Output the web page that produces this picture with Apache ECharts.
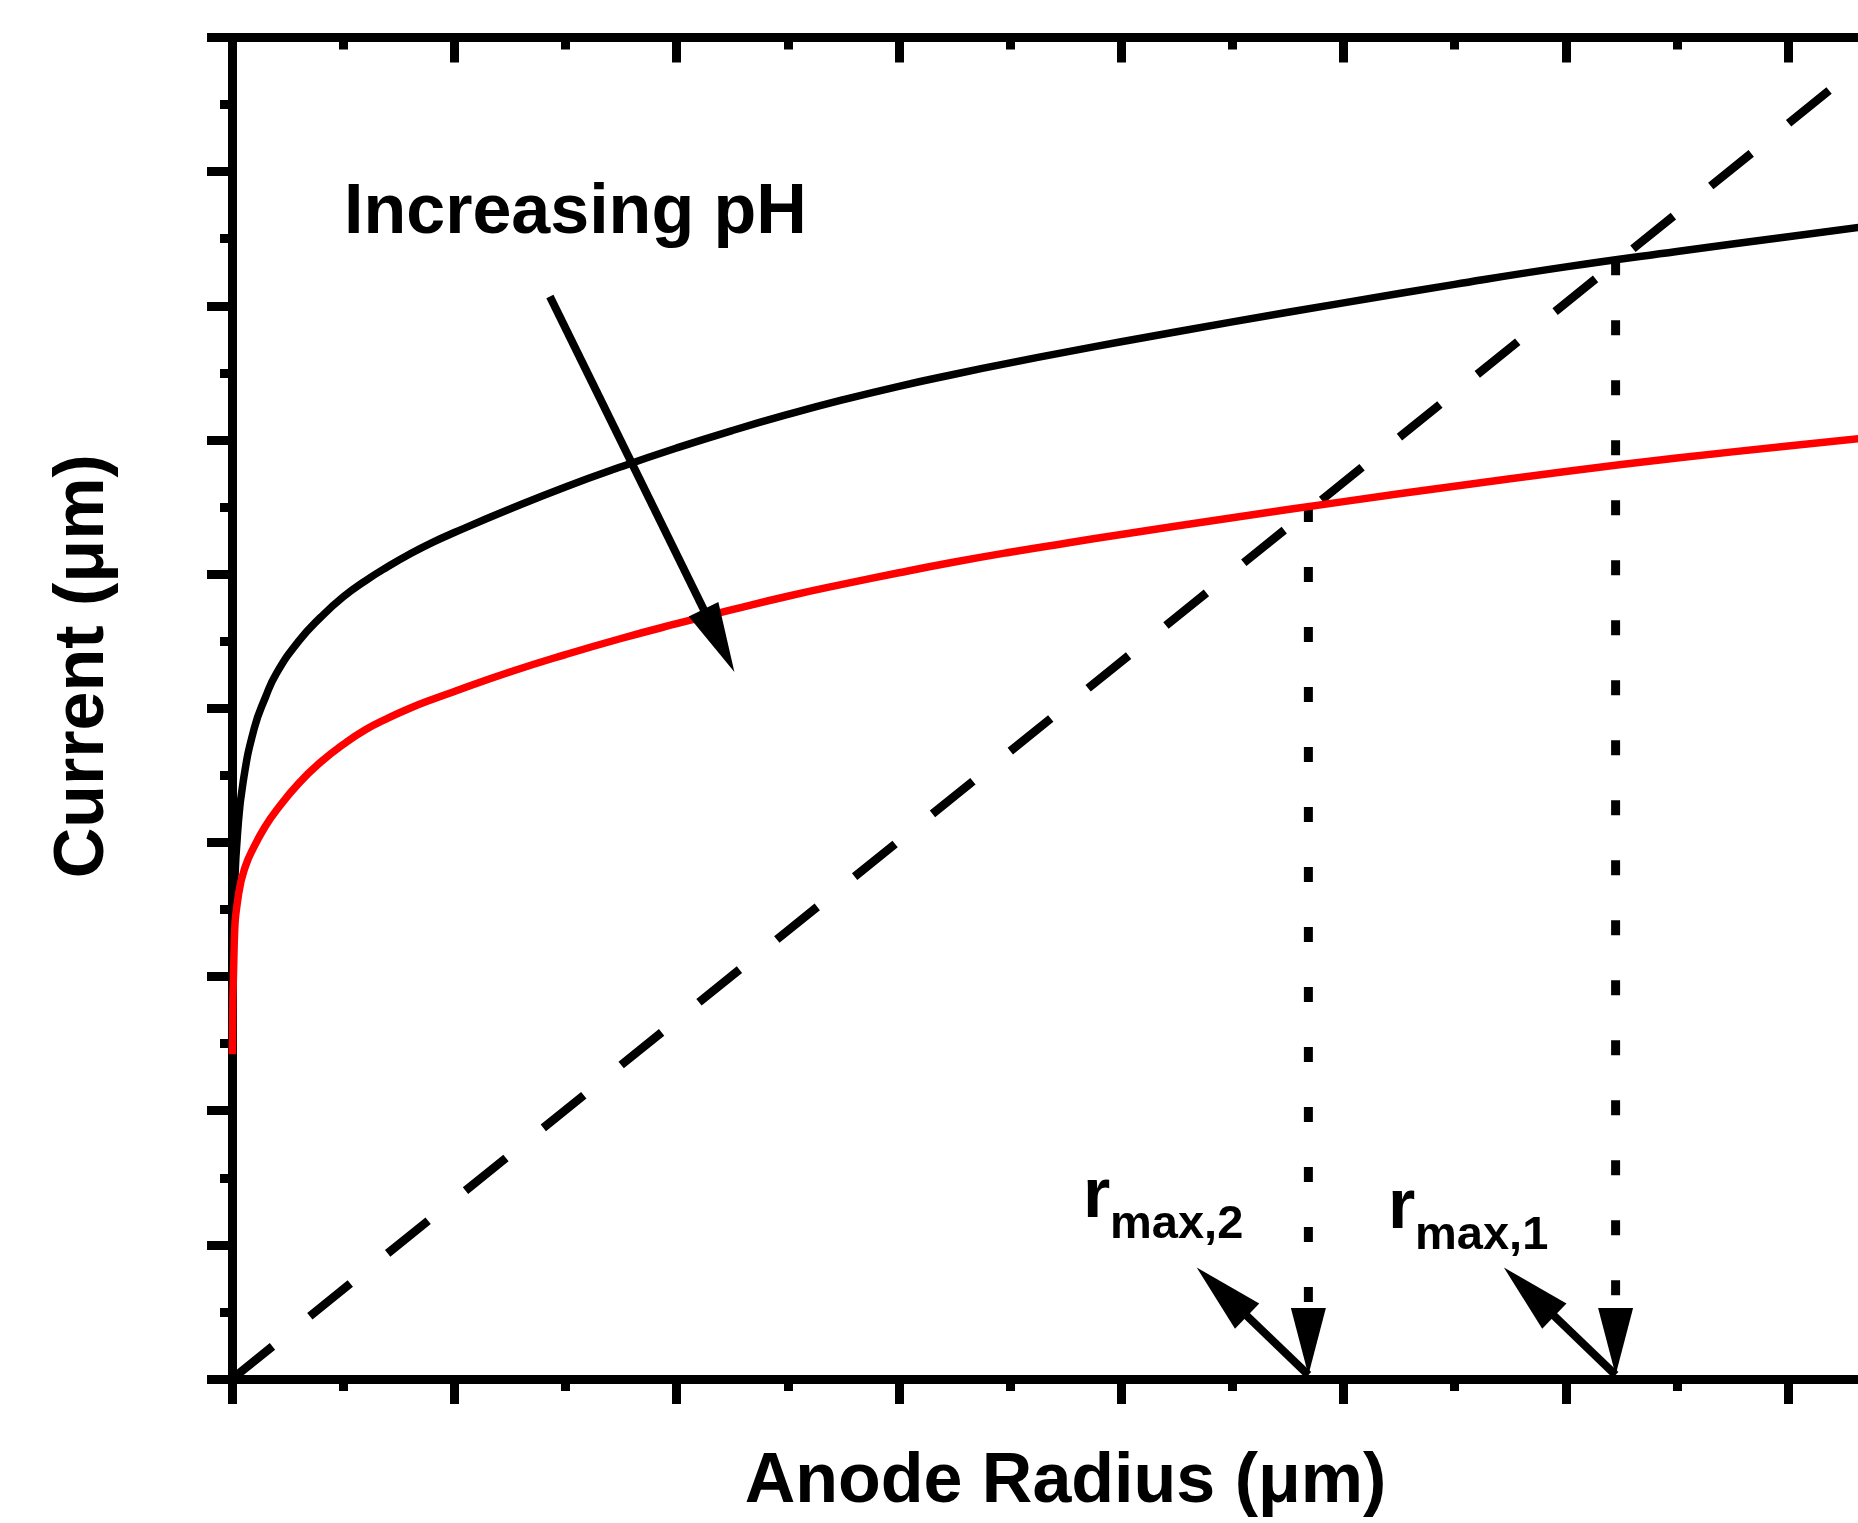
<!DOCTYPE html>
<html>
<head>
<meta charset="utf-8">
<script src="https://cdn.jsdelivr.net/npm/echarts@6/dist/echarts.min.js"></script>
<style>
  html, body { margin: 0; padding: 0; background: #ffffff; }
  #chart { width: 1858px; height: 1523px; }
</style>
</head>
<body>
<div id="chart"></div>
<script>
// ---------------- data ----------------
// upper (black) current curve
const blackX = [0.002, 0.01, 0.025, 0.05, 0.1, 0.15, 0.2, 0.3, 0.4, 0.5, 0.6, 0.7, 0.8, 0.9, 1.0, 1.25, 1.5, 1.75, 2.0, 2.25, 2.5, 2.75, 3.0, 3.25, 3.5, 3.75, 4.0, 4.5, 5.0, 5.5, 6.0, 6.5, 7.0, 7.32];
const blackY = [3.05, 3.60, 4.07, 4.45, 4.85, 5.08, 5.26, 5.50, 5.68, 5.83, 5.95, 6.055, 6.15, 6.235, 6.31, 6.485, 6.65, 6.80, 6.94, 7.07, 7.19, 7.30, 7.40, 7.49, 7.575, 7.655, 7.732, 7.88, 8.022, 8.16, 8.29, 8.405, 8.515, 8.585];
// lower (red) current curve, higher pH
const redX = [0.002, 0.01, 0.03, 0.06, 0.1, 0.15, 0.2, 0.3, 0.4, 0.5, 0.6, 0.7, 0.8, 0.9, 1.0, 1.25, 1.5, 1.75, 2.0, 2.25, 2.5, 2.75, 3.0, 3.25, 3.5, 3.75, 4.0, 4.5, 5.0, 5.5, 6.0, 6.5, 7.0, 7.32];
const redY = [2.42, 3.25, 3.62, 3.82, 3.97, 4.12, 4.24, 4.44, 4.60, 4.73, 4.84, 4.925, 5.0, 5.065, 5.125, 5.27, 5.40, 5.52, 5.63, 5.735, 5.835, 5.925, 6.01, 6.09, 6.163, 6.23, 6.295, 6.42, 6.54, 6.655, 6.765, 6.865, 6.955, 7.01];
// dashed straight line (through origin)
const lineX = [0, 7.48];
const lineY = [0, 10];
// r_max markers: radius, current where dashed line meets the curve, label subscript
const rMax = [4.842, 6.224];
const rMaxCurrent = [6.50, 8.34];
const rMaxLabels = ['max,2', 'max,1'];
// "Increasing pH" arrow: start and tip
const phArrowX = [1.43, 2.26];
const phArrowY = [8.07, 5.27];
// axis ticks (no tick labels in the figure)
const xMajorTicks = [0, 1, 2, 3, 4, 5, 6, 7];
const xMinorTicks = [0.5, 1.5, 2.5, 3.5, 4.5, 5.5, 6.5];
const xMin = 0, xMax = 7.3144;
const yMajorStep = 1, yMin = 0, yMax = 10;
const xTitle = 'Anode Radius (μm)';
const yTitle = 'Current (μm)';
const annotation = 'Increasing pH';

// ---------------- chart ----------------
const FONT = '"Liberation Sans", Arial, Helvetica, sans-serif';
const zip = (xs, ys) => xs.map((x, i) => [x, ys[i]]);
const chart = echarts.init(document.getElementById('chart'), null, { renderer: 'canvas' });

const AXW = 9;
const tickStyle = { color: '#000', width: AXW };
function baseX(extra) {
  return Object.assign({
    type: 'value', min: xMin, max: xMax, interval: 1,
    axisLabel: { show: false }, splitLine: { show: false }
  }, extra);
}

function triangle(tip, dir, len, halfW) {
  const bx = tip[0] - dir[0] * len, by = tip[1] - dir[1] * len;
  const nx = -dir[1], ny = dir[0];
  return [[tip[0], tip[1]], [bx + nx * halfW, by + ny * halfW], [bx - nx * halfW, by - ny * halfW]];
}

const option = {
  backgroundColor: '#ffffff',
  animation: false,
  grid: { left: 232, top: 37.5, right: 0, bottom: 143, containLabel: false },
  xAxis: [
    baseX({
      position: 'bottom',
      axisLine: { show: true, onZero: false, lineStyle: { color: '#000', width: AXW } },
      axisTick: { show: true, inside: false, length: 25, customValues: xMajorTicks, lineStyle: tickStyle },
      name: xTitle, nameLocation: 'middle', nameGap: 69,
      nameTextStyle: { fontSize: 70, fontWeight: 'bold', fontFamily: FONT, color: '#000', padding: [0, 0, 0, 41] }
    }),
    baseX({
      position: 'bottom',
      axisLine: { show: false, onZero: false },
      axisTick: { show: true, inside: false, length: 12, customValues: xMinorTicks, lineStyle: tickStyle }
    }),
    baseX({
      position: 'top',
      axisLine: { show: true, onZero: false, lineStyle: { color: '#000', width: AXW } },
      axisTick: { show: true, inside: true, length: 25, customValues: xMajorTicks, lineStyle: tickStyle }
    }),
    baseX({
      position: 'top',
      axisLine: { show: false, onZero: false },
      axisTick: { show: true, inside: true, length: 12, customValues: xMinorTicks, lineStyle: tickStyle }
    })
  ],
  yAxis: [{
    type: 'value', position: 'left', min: yMin, max: yMax, interval: yMajorStep,
    axisLine: { show: true, onZero: false, lineStyle: { color: '#000', width: AXW } },
    axisTick: { show: true, inside: false, length: 25, lineStyle: tickStyle },
    minorTick: { show: true, splitNumber: 2, length: 12, lineStyle: tickStyle },
    minorSplitLine: { show: false },
    axisLabel: { show: false }, splitLine: { show: false },
    name: yTitle, nameLocation: 'middle', nameGap: 113,
    nameTextStyle: { fontSize: 70, fontWeight: 'bold', fontFamily: FONT, color: '#000', padding: [0, 0, 0, 84] }
  }],
  series: [
    {
      name: 'limit', type: 'line', data: zip(lineX, lineY), symbol: 'none', silent: true,
      lineStyle: { color: '#000', width: 8.5, type: [52, 48], cap: 'butt' }, z: 2
    },
    {
      name: 'black', type: 'line', data: zip(blackX, blackY), symbol: 'none', silent: true,
      smooth: 0.5,
      lineStyle: { color: '#000', width: 7.5 }, z: 3
    },
    {
      name: 'red', type: 'line', data: zip(redX, redY), symbol: 'none', silent: true,
      smooth: 0.5,
      lineStyle: { color: '#ff0000', width: 7.5 }, z: 3
    },
    ...rMax.map((r, i) => ({
      name: 'rmax' + i, type: 'line', data: [[r, rMaxCurrent[i]], [r, 0.5]], symbol: 'none', silent: true,
      lineStyle: { color: '#000', width: 9, type: [15, 45], cap: 'butt' }, z: 2
    })),
    {
      name: 'rmaxArrows', type: 'custom', silent: true, z: 4,
      data: rMax.map(r => [r, 0]),
      renderItem: function (params, api) {
        const p = api.coord([api.value(0), api.value(1)]);
        const tip = [p[0], p[1] - 4];
        const vHead = triangle(tip, [0, 1], 67, 17.5);
        const d = [-0.7207, -0.6931];
        const dTip = [tip[0] + d[0] * 155, tip[1] + d[1] * 155];
        const dHead = triangle(dTip, d, 70, 17.5);
        const base = [dTip[0] - d[0] * 69, dTip[1] - d[1] * 69];
        return {
          type: 'group',
          children: [
            { type: 'polygon', shape: { points: vHead }, style: { fill: '#000' } },
            { type: 'line', shape: { x1: tip[0], y1: tip[1], x2: base[0], y2: base[1] }, style: { stroke: '#000', lineWidth: 8 } },
            { type: 'polygon', shape: { points: dHead }, style: { fill: '#000' } }
          ]
        };
      }
    },
    {
      name: 'phArrow', type: 'custom', silent: true, z: 4,
      data: [[phArrowX[0], phArrowY[0], phArrowX[1], phArrowY[1]]],
      renderItem: function (params, api) {
        const s = api.coord([api.value(0), api.value(1)]);
        const t = api.coord([api.value(2), api.value(3)]);
        const L = Math.hypot(t[0] - s[0], t[1] - s[1]);
        const d = [(t[0] - s[0]) / L, (t[1] - s[1]) / L];
        const head = triangle(t, d, 70, 16.5);
        const base = [t[0] - d[0] * 69, t[1] - d[1] * 69];
        return {
          type: 'group',
          children: [
            { type: 'line', shape: { x1: s[0], y1: s[1], x2: base[0], y2: base[1] }, style: { stroke: '#000', lineWidth: 8 } },
            { type: 'polygon', shape: { points: head }, style: { fill: '#000' } }
          ]
        };
      }
    }
  ],
  graphic: [
    {
      type: 'text', x: 344, y: 213.7, z: 10,
      style: { text: annotation, font: 'bold 70px ' + FONT, fill: '#000', align: 'left', verticalAlign: 'middle', textAlign: 'left', textVerticalAlign: 'middle' }
    },
    {
      type: 'text', x: 1083, y: 1197.7, z: 10,
      style: { text: 'r', font: 'bold 70px ' + FONT, fill: '#000', align: 'left', verticalAlign: 'middle', textAlign: 'left', textVerticalAlign: 'middle' }
    },
    {
      type: 'text', x: 1110, y: 1224.8, z: 10,
      style: { text: rMaxLabels[0], font: 'bold 47px ' + FONT, fill: '#000', align: 'left', verticalAlign: 'middle', textAlign: 'left', textVerticalAlign: 'middle' }
    },
    {
      type: 'text', x: 1388, y: 1208.7, z: 10,
      style: { text: 'r', font: 'bold 70px ' + FONT, fill: '#000', align: 'left', verticalAlign: 'middle', textAlign: 'left', textVerticalAlign: 'middle' }
    },
    {
      type: 'text', x: 1415, y: 1236.5, z: 10,
      style: { text: rMaxLabels[1], font: 'bold 47px ' + FONT, fill: '#000', align: 'left', verticalAlign: 'middle', textAlign: 'left', textVerticalAlign: 'middle' }
    }
  ]
};
chart.setOption(option);
</script>
</body>
</html>
